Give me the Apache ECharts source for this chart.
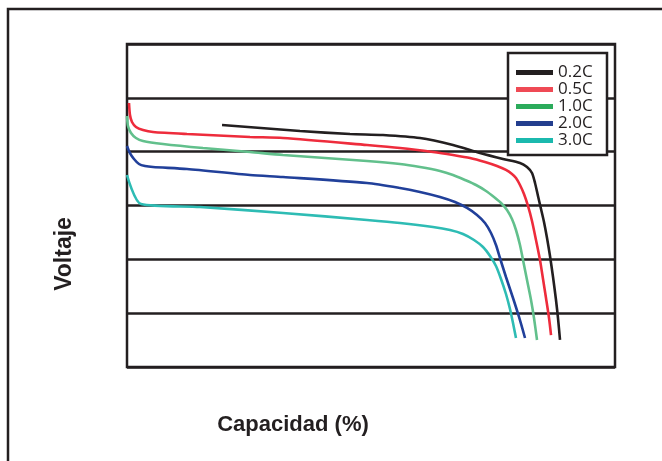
<!DOCTYPE html>
<html>
<head>
<meta charset="utf-8">
<script src="https://cdn.jsdelivr.net/npm/echarts@6/dist/echarts.min.js"></script>
<style>html,body{margin:0;padding:0;background:#fff;}#c{width:662px;height:461px;}</style>
</head>
<body>
<div id="c"></div>
<script>
// Series names (discharge rates)
var rates = ['0.2C', '0.5C', '1.0C', '2.0C', '3.0C'];

// Capacity (%) and voltage (relative units)
var cap02 = [19.47, 35.45, 45.70, 52.46, 60.04, 66.80, 72.34, 77.05, 80.53, 81.97, 82.99, 83.61, 84.22, 84.84, 85.45, 86.07, 86.68, 87.30, 87.91, 88.32, 88.73];
var volt02 = [4.496, 4.384, 4.328, 4.310, 4.254, 4.124, 3.975, 3.864, 3.790, 3.715, 3.604, 3.418, 3.177, 2.935, 2.694, 2.396, 2.062, 1.672, 1.245, 0.910, 0.502];

var cap05 = [0.41, 0.61, 1.02, 1.84, 3.28, 5.33, 12.30, 25.20, 31.97, 49.18, 55.94, 62.70, 66.80, 70.29, 73.36, 75.82, 77.66, 78.89, 79.71, 80.53, 81.35, 82.17, 82.99, 83.81, 84.63, 85.25, 85.86, 86.48, 86.89];
var volt05 = [4.904, 4.681, 4.551, 4.459, 4.403, 4.366, 4.328, 4.273, 4.254, 4.124, 4.068, 3.994, 3.938, 3.883, 3.808, 3.734, 3.660, 3.585, 3.511, 3.381, 3.214, 2.991, 2.712, 2.359, 1.988, 1.635, 1.282, 0.910, 0.594];

var cap10 = [0, 0.20, 0.82, 1.84, 3.28, 7.38, 15.57, 25.20, 31.97, 49.18, 55.94, 60.04, 64.14, 66.80, 69.26, 71.52, 73.57, 75.20, 76.64, 77.87, 78.89, 79.71, 80.53, 81.15, 81.97, 82.79, 83.40, 84.02];
var volt10 = [4.663, 4.477, 4.347, 4.254, 4.198, 4.143, 4.068, 3.994, 3.938, 3.827, 3.771, 3.715, 3.641, 3.567, 3.474, 3.381, 3.270, 3.158, 3.047, 2.917, 2.749, 2.545, 2.266, 1.988, 1.616, 1.245, 0.910, 0.502];

var cap20 = [0, 0.61, 1.43, 2.46, 3.69, 5.33, 12.30, 25.20, 31.97, 49.18, 55.94, 60.04, 64.14, 67.21, 69.67, 71.72, 73.36, 74.59, 75.61, 76.43, 77.66, 79.10, 80.33, 81.56];
var volt20 = [4.106, 3.975, 3.864, 3.771, 3.734, 3.715, 3.678, 3.567, 3.530, 3.418, 3.325, 3.251, 3.158, 3.065, 2.954, 2.824, 2.675, 2.489, 2.266, 2.025, 1.672, 1.282, 0.929, 0.539];

var cap30 = [0, 2.87, 14.96, 31.97, 49.18, 55.94, 62.70, 66.19, 68.85, 71.11, 72.95, 74.39, 75.61, 76.64, 77.66, 78.48, 79.10, 79.71];
var volt30 = [3.567, 3.028, 2.972, 2.861, 2.731, 2.675, 2.601, 2.545, 2.471, 2.359, 2.229, 2.062, 1.876, 1.635, 1.356, 1.077, 0.817, 0.539];

var lineColors = ['#231f20', '#ee2c3c', '#62c08c', '#21409a', '#2ebcb4'];
var legendColors = ['#231f20', '#ef4a55', '#2bab5b', '#233e8e', '#1bb9ae'];

function zip(xs, ys) { return xs.map(function (x, i) { return [x, ys[i]]; }); }
var allData = [zip(cap02, volt02), zip(cap05, volt05), zip(cap10, volt10), zip(cap20, volt20), zip(cap30, volt30)];

var chart = echarts.init(document.getElementById('c'), null, { renderer: 'canvas' });
var ink = '#231f20';
chart.setOption({
  animation: false,
  backgroundColor: '#fff',
  grid: { left: 127, top: 44, width: 488, height: 323, show: true, borderColor: ink, borderWidth: 2.5, backgroundColor: 'transparent' },
  xAxis: {
    type: 'value', min: 0, max: 100,
    axisLine: { show: false }, axisTick: { show: false }, axisLabel: { show: false }, splitLine: { show: false }
  },
  yAxis: {
    type: 'value', min: 0, max: 6, interval: 1,
    axisLine: { show: false }, axisTick: { show: false }, axisLabel: { show: false },
    splitLine: { show: true, lineStyle: { color: ink, width: 2.5 } }
  },
  legend: {
    orient: 'vertical', left: 516, top: 64, padding: 0, z: 20,
    icon: 'rect', itemWidth: 37, itemHeight: 5, itemGap: 0,
    textStyle: { fontFamily: 'Open Sans', fontSize: 17, color: ink, lineHeight: 17 },
    data: rates.map(function (r, i) { return { name: r, itemStyle: { color: legendColors[i] } }; })
  },
  graphic: [
    { type: 'polyline', z: 1, shape: { points: [[8, 470], [8, 9], [670, 9]] }, style: { stroke: ink, lineWidth: 2.5, fill: null } },
    { type: 'rect', z: 10, shape: { x: 508, y: 53, width: 99, height: 102 }, style: { stroke: ink, lineWidth: 2.5, fill: '#fff' } },
    { type: 'text', z: 10, x: 293, y: 425, style: { text: 'Capacidad (%)', font: 'bold 22px "Liberation Sans"', fill: ink, textAlign: 'center', textVerticalAlign: 'middle' } },
    { type: 'text', z: 10, x: 65, y: 254, rotation: Math.PI / 2, style: { text: 'Voltaje', font: 'bold 23px "Liberation Sans"', fill: ink, textAlign: 'center', textVerticalAlign: 'middle' } }
  ],
  series: rates.map(function (r, i) {
    return {
      name: r, type: 'line', data: allData[i], symbol: 'none', smooth: 0.25, z: 3,
      lineStyle: { color: lineColors[i], width: 2.6 }, itemStyle: { color: lineColors[i] }
    };
  })
});
</script>
</body>
</html>
